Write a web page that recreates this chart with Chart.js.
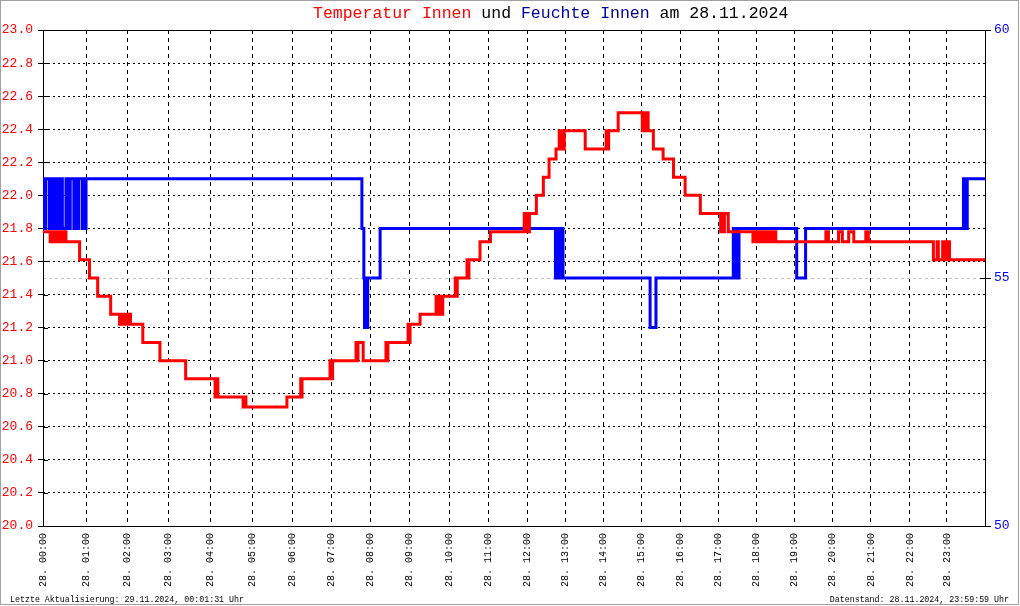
<!DOCTYPE html>
<html>
<head>
<meta charset="utf-8">
<script src="https://cdn.jsdelivr.net/npm/chart.js@4.4.1/dist/chart.umd.min.js"></script>
<style>
html,body{margin:0;padding:0;background:#fff;}
#wrap{width:1020px;height:606px;position:relative;}
canvas{display:block;}
</style>
</head>
<body>
<div id="wrap"><canvas id="c" width="1020" height="606"></canvas></div>
<script>
// ---------------- DATA ----------------
// number of logged records in each hour of the day (x axis is record based)
const recordsPerHour = [43,41,41,42,42,40,39,39,39,40,39,39,38,38,38,39,38,38,38,38,38,39,37,38];

const hourLabels = ["28. 00:00","28. 01:00","28. 02:00","28. 03:00","28. 04:00","28. 05:00",
  "28. 06:00","28. 07:00","28. 08:00","28. 09:00","28. 10:00","28. 11:00",
  "28. 12:00","28. 13:00","28. 14:00","28. 15:00","28. 16:00","28. 17:00",
  "28. 18:00","28. 19:00","28. 20:00","28. 21:00","28. 22:00","28. 23:00"];

const tempTicks = [20.0,20.2,20.4,20.6,20.8,21.0,21.2,21.4,21.6,21.8,22.0,22.2,22.4,22.6,22.8,23.0];
const humTicks = [50,55,60];

// Temperatur Innen (°C): [time, value] change points
const tempSteps = [
 ["00:00",21.78],["00:10",21.72],["00:13",21.78],["00:17",21.72],["00:21",21.78],["00:25",21.72],
 ["00:27",21.78],["00:29",21.72],["00:31",21.78],["00:32",21.72],["00:51",21.61],["01:05",21.5],
 ["01:17",21.39],["01:36",21.28],["01:49",21.22],["01:51",21.28],["01:54",21.22],["01:56",21.28],
 ["02:00",21.22],["02:02",21.28],["02:05",21.22],["02:23",21.11],["02:48",21.0],["03:25",20.89],
 ["04:07",20.78],["04:09",20.89],["04:11",20.78],["04:47",20.72],["04:49",20.78],["04:51",20.72],
 ["05:52",20.78],["06:13",20.89],["06:14",20.78],["06:15",20.89],["06:58",21.0],["07:00",20.89],
 ["07:02",21.0],["07:38",21.11],["07:40",21.0],["07:41",21.11],["07:49",21.0],["08:24",21.11],
 ["08:25",21.0],["08:27",21.11],["08:58",21.22],["09:00",21.11],["09:01",21.22],["09:16",21.28],
 ["09:40",21.39],["09:42",21.28],["09:44",21.39],["09:46",21.28],["09:50",21.39],["10:09",21.5],
 ["10:10",21.39],["10:12",21.5],["10:27",21.61],["10:29",21.5],["10:30",21.61],["10:47",21.72],
 ["11:03",21.78],["11:55",21.89],["11:57",21.78],["11:59",21.89],["12:01",21.78],["12:03",21.89],
 ["12:14",22.0],["12:25",22.11],["12:34",22.22],["12:45",22.28],["12:50",22.39],["12:52",22.28],
 ["12:54",22.39],["12:56",22.28],["12:58",22.39],["13:31",22.28],["14:04",22.39],["14:06",22.28],
 ["14:08",22.39],["14:23",22.5],["15:01",22.39],["15:03",22.5],["15:05",22.39],["15:07",22.5],
 ["15:10",22.39],["15:18",22.28],["15:33",22.22],["15:49",22.11],["16:07",22.0],["16:31",21.89],
 ["17:03",21.78],["17:05",21.89],["17:07",21.78],["17:09",21.89],["17:15",21.78],["17:54",21.72],
 ["17:57",21.78],["18:00",21.72],["18:03",21.78],["18:06",21.72],["18:10",21.78],["18:12",21.72],
 ["18:15",21.78],["18:18",21.72],["18:22",21.78],["18:25",21.72],["18:27",21.78],["18:30",21.72],
 ["19:49",21.78],["19:53",21.72],["20:09",21.78],["20:15",21.72],["20:25",21.78],["20:33",21.72],
 ["20:52",21.78],["20:56",21.72],["22:38",21.61],["22:44",21.72],["22:46",21.61],["22:53",21.72],
 ["22:56",21.61],["23:00",21.72],["23:04",21.61],["23:59:59",21.61]
];

// Feuchte Innen (%): [time, value] change points
const humSteps = [
 ["00:00",57],["00:01",56],["00:02",57],["00:03",56],["00:04",57],["00:09",56],["00:10",57],
 ["00:11",56],["00:12",57],["00:13",56],["00:14",57],["00:15",56],["00:16",57],["00:17",56],
 ["00:18",57],["00:19",56],["00:20",57],["00:21",56],["00:22",57],["00:23",56],["00:24",57],
 ["00:25",56],["00:26",57],["00:27",56],["00:32",57],["00:33",56],["00:34",57],["00:35",56],
 ["00:36",57],["00:37",56],["00:38",57],["00:43",56],["00:44",57],["00:45",56],["00:46",57],
 ["00:47",56],["00:48",57],["00:49",56],["00:50",57],["00:55",56],["00:56",57],["00:57",56],
 ["00:58",57],["00:59",56],["01:00",57],["07:47",56],["07:50",55],["07:51",54],["07:53",55],
 ["07:54",54],["07:56",55],["08:15",56],["12:44",55],["12:45",56],["12:47",55],["12:48",56],
 ["12:50",55],["12:52",56],["12:53",55],["12:54",56],["12:56",55],["15:13",54],["15:22",55],
 ["17:23",56],["17:24",55],["17:26",56],["17:27",55],["17:29",56],["17:30",55],["17:32",56],
 ["19:03",55],["19:17",56],["23:26",57],["23:27",56],["23:29",57],["23:30",56],["23:32",57],
 ["23:59:59",57]
];

const titleTexts = ["Temperatur Innen"," und ","Feuchte Innen"," am 28.11.2024"];
const footerLeft = "Letzte Aktualisierung: 29.11.2024, 00:01:31 Uhr";
const footerRight = "Datenstand: 28.11.2024, 23:59:59 Uhr";

// ---------------- STYLE ----------------
const FONT = "'Liberation Mono','DejaVu Sans Mono',monospace";
const titleColors = ["#ff0000","#000000","#0000a0","#000000"];

// cumulative record index at the start of each hour
const hourStarts = recordsPerHour.reduce((acc, n) => { acc.push(acc[acc.length-1] + n); return acc; }, [0]);
const totalRecords = hourStarts[hourStarts.length-1];

function toRecord(t){
  const p = t.split(":").map(Number);
  const h = p[0], frac = (p[1] || 0)/60 + (p[2] || 0)/3600;
  return hourStarts[h] + frac * recordsPerHour[h];
}
const toPoints = steps => steps.map(([t,v]) => ({x: toRecord(t), y: v}));

const decor = {
  id: 'decor',
  beforeDraw(chart){
    const c = chart.ctx;
    c.save(); c.fillStyle = '#fff'; c.fillRect(0,0,chart.width,chart.height); c.restore();
  },
  beforeDatasetsDraw(chart){
    const {ctx, chartArea:a, scales} = chart;
    ctx.save();
    ctx.lineWidth = 1;
    // light grey reference line (55 %)
    const yRef = Math.round(scales.yH.getPixelForValue(55)) + 0.5;
    ctx.strokeStyle = '#c0c0c0';
    ctx.setLineDash([3,3]);
    ctx.beginPath(); ctx.moveTo(a.left, yRef); ctx.lineTo(a.right, yRef); ctx.stroke();
    ctx.setLineDash([]);
    ctx.strokeStyle = '#000';
    // inner tick marks
    ctx.beginPath();
    scales.yT.ticks.forEach(t => {
      const y = Math.round(scales.yT.getPixelForValue(t.value)) + 0.5;
      ctx.moveTo(a.left, y); ctx.lineTo(a.left + 5, y);
    });
    scales.yH.ticks.forEach(t => {
      const y = Math.round(scales.yH.getPixelForValue(t.value)) + 0.5;
      ctx.moveTo(a.right - 5, y); ctx.lineTo(a.right, y);
    });
    ctx.stroke();
    // frame
    ctx.strokeRect(a.left + 0.5, a.top + 0.5, a.right - a.left, a.bottom - a.top);
    ctx.restore();
  },
  afterDraw(chart){
    const ctx = chart.ctx;
    ctx.save();
    // title
    ctx.font = "16.5px " + FONT;
    ctx.textBaseline = 'alphabetic';
    ctx.textAlign = 'left';
    let x = 313;
    titleTexts.forEach((s, i) => {
      ctx.fillStyle = titleColors[i];
      ctx.fillText(s, x, 18);
      x += ctx.measureText(s).width;
    });
    // footer
    ctx.font = "8.3px " + FONT;
    ctx.fillStyle = '#000';
    ctx.fillText(footerLeft, 10, 602);
    ctx.textAlign = 'right';
    ctx.fillText(footerRight, 1009, 602);
    // outer border
    ctx.strokeStyle = '#a0a0a0';
    ctx.lineWidth = 1;
    ctx.strokeRect(0.5, 0.5, 1018, 604);
    ctx.restore();
  }
};

const lineCommon = {
  stepped: 'before', pointRadius: 0, borderWidth: 3, fill: false, tension: 0,
  borderJoinStyle: 'miter', borderCapStyle: 'butt'
};

new Chart(document.getElementById('c'), {
  type: 'line',
  data: {
    datasets: [
      Object.assign({label: titleTexts[0], data: toPoints(tempSteps), yAxisID: 'yT', borderColor: '#ff0000'}, lineCommon),
      Object.assign({label: titleTexts[2], data: toPoints(humSteps), yAxisID: 'yH', borderColor: '#0000ff'}, lineCommon)
    ]
  },
  options: {
    responsive: false, animation: false, devicePixelRatio: 1,
    layout: {padding: {top: 30, left: 0, right: 0, bottom: 0}},
    plugins: {legend: {display: false}, title: {display: false}, tooltip: {enabled: false}},
    scales: {
      x: {
        type: 'linear', min: 0, max: totalRecords,
        afterBuildTicks: s => { s.ticks = hourLabels.map((_, i) => ({value: hourStarts[i]})); },
        afterFit: s => { s.height = 80; },
        ticks: {
          autoSkip: false, minRotation: 90, maxRotation: 90, padding: 7, color: '#000',
          font: {family: FONT, size: 10},
          callback: (v, i) => hourLabels[i]
        },
        grid: {color: '#000', lineWidth: 1, drawTicks: false, borderDash: [4,4]},
        border: {display: false, dash: [4,4]}
      },
      yT: {
        position: 'left', min: 20, max: 23,
        afterBuildTicks: s => { s.ticks = tempTicks.map(v => ({value: v})); },
        afterFit: s => { s.width = 43; },
        ticks: {padding: 5, color: '#ff0000', font: {family: FONT, size: 13}, callback: v => Number(v).toFixed(1)},
        grid: {color: '#000', lineWidth: 1, drawTicks: true, tickLength: 5, tickColor: '#000', borderDash: [2,3]},
        border: {display: false, dash: [2,3]}
      },
      yH: {
        position: 'right', min: 50, max: 60,
        afterBuildTicks: s => { s.ticks = humTicks.map(v => ({value: v})); },
        afterFit: s => { s.width = 35; },
        ticks: {padding: 3, color: '#0000ff', font: {family: FONT, size: 13}, callback: v => String(v)},
        grid: {drawOnChartArea: false, drawTicks: true, tickLength: 6, tickColor: '#000', color: '#000'},
        border: {display: false}
      }
    }
  },
  plugins: [decor]
});
</script>
</body>
</html>
